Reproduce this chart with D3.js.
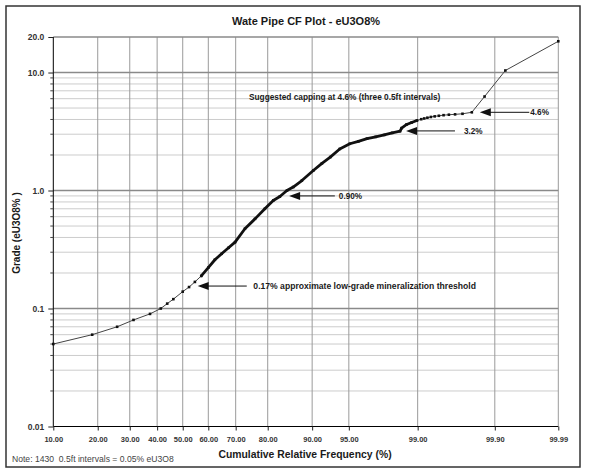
<!DOCTYPE html>
<html>
<head>
<meta charset="utf-8">
<script src="https://cdn.jsdelivr.net/npm/d3@7"></script>
<style>
  html, body { margin: 0; padding: 0; background: #fff; }
  svg { display: block; font-family: "Liberation Sans", Arial, sans-serif; }
</style>
</head>
<body>
<svg id="chart" width="591" height="476"></svg>
<script>
// ---------------- DATA ----------------
const cumFreq = [10.0, 18.5, 25.8, 31.3, 37.3, 41.4, 43.9, 46.3, 50.0, 52.5, 54.8, 57.3, 60.0, 62.5,
  65.0, 67.5, 69.8, 73.1, 76.3, 79.2, 81.5, 83.2, 84.9, 86.3, 88.1, 90.2, 91.6, 92.8, 94.0, 95.1,
  95.9, 96.6, 97.2, 97.7, 98.1, 98.43, 98.49, 98.67, 98.83, 98.98, 99.09, 99.16, 99.23, 99.30,
  99.37, 99.44, 99.51, 99.58, 99.65, 99.72, 99.79, 99.86, 99.93, 99.99];
const grade = [0.050, 0.060, 0.070, 0.080, 0.090, 0.100, 0.110, 0.120, 0.139, 0.152, 0.168, 0.189, 0.222, 0.259,
  0.291, 0.327, 0.365, 0.474, 0.575, 0.700, 0.823, 0.889, 1.00, 1.07, 1.215, 1.477, 1.70, 1.92, 2.25, 2.49,
  2.61, 2.75, 2.85, 2.96, 3.08, 3.18, 3.38, 3.63, 3.77, 3.92, 4.02, 4.08, 4.14, 4.20,
  4.25, 4.30, 4.35, 4.39, 4.42, 4.47, 4.60, 6.26, 10.4, 18.4];

const xTicks = [10, 20, 30, 40, 50, 60, 70, 80, 90, 95, 99, 99.9, 99.99];
const xTickLabels = ["10.00", "20.00", "30.00", "40.00", "50.00", "60.00", "70.00", "80.00", "90.00", "95.00", "99.00", "99.90", "99.99"];
const yTicks = [0.01, 0.1, 1, 10, 20];
const yTickLabels = ["0.01", "0.1", "1.0", "10.0", "20.0"];
const yMinor = [0.02,0.03,0.04,0.05,0.06,0.07,0.08,0.09, 0.2,0.3,0.4,0.5,0.6,0.7,0.8,0.9, 2,3,4,5,6,7,8,9];

const annText = ["0.17% approximate low-grade mineralization threshold", "0.90%", "3.2%", "4.6%"];
const annGrade = [0.155, 0.90, 3.2, 4.6];
const annTip = [55.9, 85.4, 98.65, 99.837];
const annTail = [73.7, 93.4, 99.649, 99.97];

const titleText = "Wate Pipe CF Plot - eU3O8%";
const xTitle = "Cumulative Relative Frequency (%)";
const yTitle = "Grade (eU3O8% )";
const noteText = "Note: 1430  0.5ft intervals = 0.05% eU3O8";
const capText = "Suggested capping at 4.6% (three 0.5ft intervals)";

// ---------------- HELPERS ----------------
function probit(p) {
  const a=[-3.969683028665376e+01,2.209460984245205e+02,-2.759285104469687e+02,1.383577518672690e+02,-3.066479806614716e+01,2.506628277459239e+00];
  const b=[-5.447609879822406e+01,1.615858368580409e+02,-1.556989798598866e+02,6.680131188771972e+01,-1.328068155288572e+01];
  const c=[-7.784894002430293e-03,-3.223964580411365e-01,-2.400758277161838e+00,-2.549732539343734e+00,4.374664141464968e+00,2.938163982698783e+00];
  const d=[7.784695709041462e-03,3.224671290700398e-01,2.445134137142996e+00,3.754408661907416e+00];
  const pl=0.02425, ph=1-pl; let q, r;
  if (p < pl) { q=Math.sqrt(-2*Math.log(p)); return (((((c[0]*q+c[1])*q+c[2])*q+c[3])*q+c[4])*q+c[5])/((((d[0]*q+d[1])*q+d[2])*q+d[3])*q+1); }
  if (p > ph) { q=Math.sqrt(-2*Math.log(1-p)); return -(((((c[0]*q+c[1])*q+c[2])*q+c[3])*q+c[4])*q+c[5])/((((d[0]*q+d[1])*q+d[2])*q+d[3])*q+1); }
  q=p-0.5; r=q*q;
  return (((((a[0]*r+a[1])*r+a[2])*r+a[3])*r+a[4])*r+a[5])*q/(((((b[0]*r+b[1])*r+b[2])*r+b[3])*r+b[4])*r+1);
}

// ---------------- LAYOUT ----------------
const L = 53.3, R = 558.3, T = 37, B = 426.5;
const svg = d3.select("#chart");

const zScale = d3.scaleLinear().domain([probit(0.10), probit(0.9999)]).range([L, R]);
const x = p => zScale(probit(p / 100));
const y = d3.scaleLog().domain([0.01, 20]).range([B, T]);

// frame
svg.append("rect").attr("x", 6).attr("y", 6).attr("width", 574).attr("height", 461)
  .attr("fill", "#fff").attr("stroke", "#333").attr("stroke-width", 1.5);

// title
svg.append("text").attr("x", 306).attr("y", 25).attr("text-anchor", "middle")
  .attr("font-size", 11).attr("font-weight", "bold").attr("fill", "#1a1a1a").text(titleText);

// grid - minor horizontal
const grid = svg.append("g");
grid.selectAll("line.hmin").data(yMinor).join("line")
  .attr("x1", L).attr("x2", R).attr("y1", d => y(d)).attr("y2", d => y(d))
  .attr("stroke", "#cccccc").attr("stroke-width", 1);
// vertical grid
grid.selectAll("line.v").data(xTicks.slice(1)).join("line")
  .attr("x1", d => x(d)).attr("x2", d => x(d)).attr("y1", T).attr("y2", B)
  .attr("stroke", "#9a9a9a").attr("stroke-width", 1);
// major horizontal
grid.selectAll("line.hmaj").data(yTicks.slice(1)).join("line")
  .attr("x1", L).attr("x2", R).attr("y1", d => y(d)).attr("y2", d => y(d))
  .attr("stroke", "#8a8a8a").attr("stroke-width", 1.5);

// axes
const gx = svg.append("g").attr("transform", `translate(0,${B})`)
  .call(d3.axisBottom(zScale).tickValues(xTicks.map(p => probit(p / 100)))
    .tickFormat((d, i) => xTickLabels[i]).tickSize(4).tickPadding(6).tickSizeOuter(0));
gx.select(".domain").attr("stroke", "#000").attr("d", `M${L},0H${R}`);
gx.selectAll(".tick line").attr("stroke", "#222");
gx.selectAll(".tick text").attr("font-size", 7.5).attr("font-weight", "bold").attr("fill", "#333")
  .attr("font-family", "Liberation Sans, Arial, sans-serif");

const gy = svg.append("g").attr("transform", `translate(${L},0)`)
  .call(d3.axisLeft(y).tickValues(yTicks).tickFormat((d, i) => yTickLabels[i])
    .tickSize(5).tickPadding(4).tickSizeOuter(0));
gy.select(".domain").attr("stroke", "#000").attr("d", `M0,${B}V${T}`);
gy.selectAll(".tick line").attr("stroke", "#222");
gy.selectAll(".tick text").attr("font-size", 8.5).attr("font-weight", "bold").attr("fill", "#333")
  .attr("font-family", "Liberation Sans, Arial, sans-serif");
svg.append("g").selectAll("line").data(yMinor).join("line")
  .attr("x1", L - 3).attr("x2", L).attr("y1", d => y(d)).attr("y2", d => y(d))
  .attr("stroke", "#444").attr("stroke-width", 1);

// axis titles
svg.append("text").attr("x", 305).attr("y", 458).attr("text-anchor", "middle")
  .attr("font-size", 10.4).attr("font-weight", "bold").attr("fill", "#1a1a1a").text(xTitle);
svg.append("text").attr("transform", "translate(19.5,233) rotate(-90)").attr("text-anchor", "middle")
  .attr("font-size", 10).attr("font-weight", "bold").attr("fill", "#1a1a1a").text(yTitle);
svg.append("text").attr("x", 12).attr("y", 462).attr("font-size", 8.6).attr("fill", "#444")
  .style("white-space", "pre").text(noteText);

// data
const pts = cumFreq.map((p, i) => ({ p, g: grade[i] }));
const line = d3.line().x(d => x(d.p)).y(d => y(d.g));
svg.append("path").datum(pts).attr("d", line).attr("fill", "none")
  .attr("stroke", "#444").attr("stroke-width", 1);
const dense = pts.filter(d => d.p >= 57 && d.p <= 99.0);
svg.append("path").datum(dense).attr("d", line).attr("fill", "none")
  .attr("stroke", "#111").attr("stroke-width", 2.8).attr("stroke-linejoin", "round").attr("stroke-linecap", "round");
svg.append("g").selectAll("rect").data(pts).join("rect")
  .attr("x", d => x(d.p) - 1.3).attr("y", d => y(d.g) - 1.3).attr("width", 2.6).attr("height", 2.6)
  .attr("fill", "#111");

// annotations
const labelGap = [6.6, 4, 9, 1];
const annFont = [8.6, 8.2, 8.2, 8.2];
const ann = svg.append("g");
annText.forEach((t, i) => {
  const yy = y(annGrade[i]);
  const xt = x(annTip[i]), xe = x(annTail[i]);
  ann.append("line").attr("x1", xt + 9).attr("x2", xe).attr("y1", yy).attr("y2", yy)
    .attr("stroke", "#111").attr("stroke-width", 1);
  ann.append("path").attr("d", `M${xt},${yy}L${xt + 11},${yy - 4}L${xt + 11},${yy + 4}Z`).attr("fill", "#111");
  ann.append("text").attr("x", xe + labelGap[i]).attr("y", yy + 3)
    .attr("font-size", annFont[i]).attr("font-weight", "bold").attr("fill", "#1a1a1a").text(t);
});
svg.append("text").attr("x", 249).attr("y", 100).attr("font-size", 8.3).attr("font-weight", "bold")
  .attr("fill", "#1a1a1a").text(capText);
</script>
</body>
</html>
